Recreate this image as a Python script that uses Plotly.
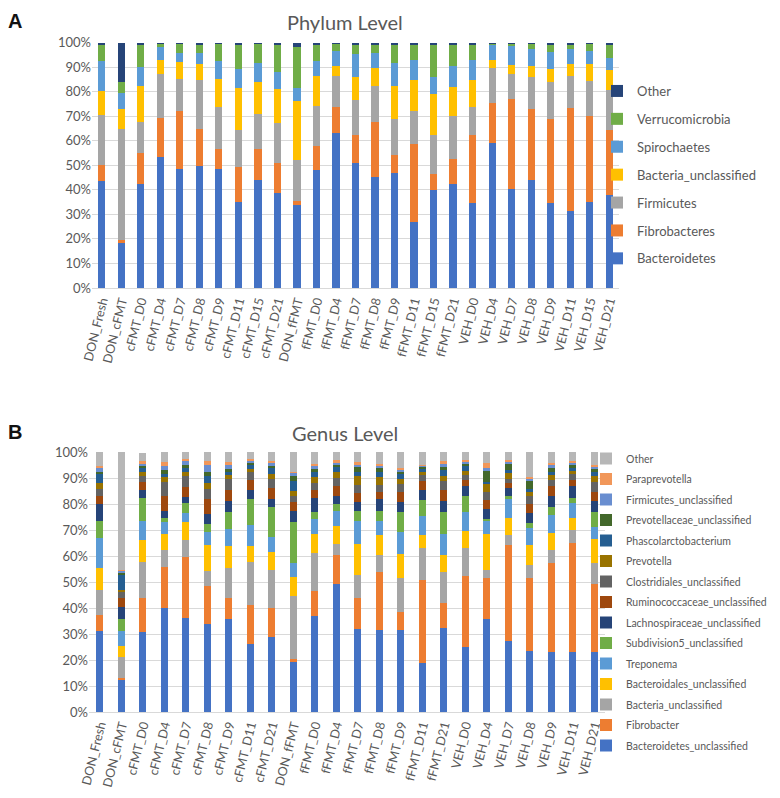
import plotly.graph_objects as go

# ---------------- Phylum level data ----------------
phylum_samples = ["DON_Fresh", "DON_cFMT", "cFMT_D0", "cFMT_D4", "cFMT_D7", "cFMT_D8", "cFMT_D9",
                  "cFMT_D11", "cFMT_D15", "cFMT_D21", "DON_fFMT", "fFMT_D0", "fFMT_D4", "fFMT_D7",
                  "fFMT_D8", "fFMT_D9", "fFMT_D11", "fFMT_D15", "fFMT_D21", "VEH_D0", "VEH_D4",
                  "VEH_D7", "VEH_D8", "VEH_D9", "VEH_D11", "VEH_D15", "VEH_D21"]
bacteroidetes = [43.4, 18.7, 42.2, 53.2, 48.4, 49.8, 48.4, 34.9, 44.1, 38.9, 33.9, 48.2, 63.1, 50.9,
                 45.2, 46.8, 26.9, 39.8, 42.5, 34.6, 59.0, 40.3, 43.8, 34.6, 31.2, 35.0, 37.9]
fibrobacteres = [6.8, 0.8, 12.6, 15.9, 23.5, 15.1, 8.2, 14.5, 12.6, 12.0, 1.4, 9.5, 10.6, 11.5,
                 22.4, 7.5, 31.9, 6.6, 10.0, 27.7, 16.3, 36.8, 29.1, 34.3, 42.1, 34.9, 26.5]
firmicutes = [20.4, 45.2, 12.8, 18.0, 13.3, 19.9, 17.1, 15.1, 14.3, 16.3, 16.9, 16.5, 12.5, 14.0,
              14.8, 14.5, 13.4, 16.0, 17.6, 11.4, 14.5, 10.0, 13.0, 15.2, 13.1, 14.6, 16.3]
bacteria_uncl = [9.7, 8.2, 14.5, 5.6, 6.8, 6.4, 11.5, 16.9, 12.9, 13.8, 23.8, 12.0, 4.4, 9.5,
                 7.2, 13.6, 12.6, 16.6, 11.7, 11.1, 3.1, 3.8, 4.6, 5.2, 4.9, 6.7, 8.1]
spirochaetes = [12.0, 6.5, 7.9, 5.4, 3.9, 4.5, 7.1, 7.7, 7.7, 6.8, 5.4, 6.1, 6.1, 9.4,
                6.1, 9.2, 7.9, 6.9, 8.7, 7.9, 6.3, 7.7, 6.9, 7.0, 6.0, 5.4, 4.9]
verrucomicrobia = [7.0, 4.5, 9.2, 1.6, 3.8, 3.8, 7.4, 10.4, 8.1, 11.7, 16.7, 6.9, 3.0, 4.2,
                   3.8, 7.9, 6.8, 13.2, 9.0, 6.5, 0.5, 1.1, 2.3, 3.2, 2.2, 3.1, 5.3]
phylum_other = [0.7, 16.1, 0.8, 0.3, 0.3, 0.5, 0.3, 0.5, 0.3, 0.5, 1.9, 0.8, 0.3, 0.5,
                0.5, 0.5, 0.5, 0.9, 0.5, 0.8, 0.3, 0.3, 0.3, 0.5, 0.5, 0.3, 1.0]

phylum_names = ["Bacteroidetes", "Fibrobacteres", "Firmicutes", "Bacteria_unclassified",
                "Spirochaetes", "Verrucomicrobia", "Other"]
phylum_series = [bacteroidetes, fibrobacteres, firmicutes, bacteria_uncl,
                 spirochaetes, verrucomicrobia, phylum_other]
phylum_colors = ["#4472C4", "#ED7D31", "#A5A5A5", "#FFC000", "#5B9BD5", "#70AD47", "#264478"]

# ---------------- Genus level data ----------------
genus_samples = ["DON_Fresh", "DON_cFMT", "cFMT_D0", "cFMT_D4", "cFMT_D7", "cFMT_D8", "cFMT_D9",
                 "cFMT_D11", "cFMT_D21", "DON_fFMT", "fFMT_D0", "fFMT_D4", "fFMT_D7", "fFMT_D8",
                 "fFMT_D9", "fFMT_D11", "fFMT_D21", "VEH_D0", "VEH_D4", "VEH_D7", "VEH_D8",
                 "VEH_D9", "VEH_D11", "VEH_D21"]
g_bacteroidetes_uncl = [31.1, 12.2, 30.8, 40.1, 36.2, 33.7, 35.7, 26.3, 28.7, 19.3, 36.9, 49.2, 31.9,
                        31.5, 31.5, 18.9, 32.4, 25.1, 35.7, 27.4, 23.4, 22.9, 22.9, 23.1]
g_fibrobacter = [6.4, 1.0, 12.9, 15.8, 23.6, 14.9, 8.3, 14.8, 11.4, 1.0, 9.6, 11.0, 11.8,
                 22.2, 7.1, 31.9, 9.6, 27.3, 16.0, 36.9, 28.3, 34.3, 42.0, 26.1]
g_bacteria_uncl = [9.4, 8.0, 14.1, 6.4, 6.3, 5.8, 11.3, 16.7, 14.5, 24.3, 14.6, 4.5, 9.0,
                   6.7, 13.1, 12.4, 11.7, 10.8, 2.9, 3.6, 4.9, 5.1, 5.1, 8.0]
g_bacteroidales_uncl = [8.4, 4.1, 8.4, 6.1, 6.9, 9.9, 8.6, 6.2, 6.8, 7.5, 7.4, 7.0, 11.8,
                        7.7, 9.1, 4.7, 6.5, 6.6, 13.7, 6.9, 7.7, 6.7, 4.8, 9.4]
g_treponema = [11.5, 5.8, 7.3, 4.6, 3.6, 5.1, 6.5, 8.0, 6.1, 5.1, 5.8, 5.7, 9.0,
               5.4, 8.4, 7.3, 8.2, 7.1, 5.1, 7.2, 6.4, 6.6, 5.5, 4.7]
g_subdivision5 = [6.7, 4.5, 8.8, 1.8, 3.7, 2.8, 6.7, 10.0, 11.2, 15.8, 2.8, 2.7, 3.9,
                  3.9, 7.7, 6.4, 8.5, 6.3, 0.8, 1.2, 1.9, 3.4, 2.2, 5.6]
g_lachnospiraceae = [6.6, 4.9, 3.2, 2.6, 2.3, 3.9, 4.1, 3.5, 3.3, 4.4, 5.2, 2.8, 3.2,
                     4.6, 3.8, 3.9, 4.1, 3.8, 3.8, 2.9, 4.1, 4.2, 4.3, 4.3]
g_ruminococcaceae = [2.8, 3.2, 2.9, 5.8, 3.8, 5.9, 4.3, 3.8, 4.1, 3.3, 3.2, 3.9, 3.6,
                     2.8, 4.1, 3.2, 4.5, 2.1, 3.6, 1.9, 3.2, 3.6, 2.5, 3.6]
g_clostridiales = [3.0, 2.3, 2.2, 5.1, 4.2, 3.9, 4.2, 3.0, 3.6, 2.2, 2.5, 3.2, 3.2,
                   2.6, 2.9, 2.3, 3.2, 2.2, 3.2, 1.6, 3.0, 2.5, 2.2, 3.5]
g_prevotella = [2.1, 0.9, 1.7, 1.9, 1.9, 2.1, 1.3, 1.1, 1.8, 2.2, 2.2, 2.3, 3.2,
                2.8, 2.0, 1.5, 1.9, 1.5, 3.2, 2.3, 1.9, 1.7, 1.3, 2.3]
g_phascolarctobacterium = [3.4, 6.1, 1.8, 1.3, 1.3, 2.6, 1.5, 1.7, 2.6, 3.8, 2.3, 1.8, 1.9,
                           2.3, 1.8, 1.3, 2.6, 1.7, 0.5, 1.3, 1.1, 1.5, 1.0, 1.7]
g_prevotellaceae_uncl = [0.8, 0.3, 0.6, 1.4, 1.3, 1.9, 1.1, 0.8, 0.6, 1.7, 1.1, 0.8, 1.6,
                         1.3, 1.0, 0.7, 0.9, 0.9, 4.3, 2.2, 2.8, 1.3, 1.3, 1.3]
g_firmicutes_uncl = [1.6, 1.1, 1.0, 1.8, 1.3, 2.4, 1.5, 0.9, 1.1, 1.6, 0.9, 0.9, 1.0,
                     0.9, 0.7, 0.4, 1.3, 1.0, 1.0, 1.0, 1.0, 1.1, 0.9, 0.6]
g_paraprevotella = [0.9, 0.2, 0.7, 1.4, 1.0, 1.8, 0.9, 0.5, 0.9, 0.3, 1.0, 1.3, 0.9,
                    0.7, 0.6, 0.2, 1.0, 0.6, 2.0, 0.6, 0.7, 0.9, 0.7, 0.9]
g_other = [5.3, 45.4, 3.2, 3.9, 2.6, 3.3, 4.0, 2.7, 3.3, 7.5, 4.5, 2.9, 4.0,
           4.6, 6.2, 4.9, 3.6, 3.0, 4.2, 3.0, 9.6, 4.2, 3.3, 4.9]

genus_names = ["Bacteroidetes_unclassified", "Fibrobacter", "Bacteria_unclassified",
               "Bacteroidales_unclassified", "Treponema", "Subdivision5_unclassified",
               "Lachnospiraceae_unclassified", "Ruminococcaceae_unclassified",
               "Clostridiales_unclassified", "Prevotella", "Phascolarctobacterium",
               "Prevotellaceae_unclassified", "Firmicutes_unclassified", "Paraprevotella", "Other"]
genus_series = [g_bacteroidetes_uncl, g_fibrobacter, g_bacteria_uncl, g_bacteroidales_uncl,
                g_treponema, g_subdivision5, g_lachnospiraceae, g_ruminococcaceae,
                g_clostridiales, g_prevotella, g_phascolarctobacterium, g_prevotellaceae_uncl,
                g_firmicutes_uncl, g_paraprevotella, g_other]
genus_colors = ["#4472C4", "#ED7D31", "#A5A5A5", "#FFC000", "#5B9BD5", "#70AD47",
                "#264478", "#9E480E", "#636363", "#997300", "#255E91", "#43682B",
                "#698ED0", "#F1975A", "#B7B7B7"]

y_ticks = [0, 10, 20, 30, 40, 50, 60, 70, 80, 90, 100]
y_tick_labels = ["0%", "10%", "20%", "30%", "40%", "50%", "60%", "70%", "80%", "90%", "100%"]

FONT = "Lato, Liberation Sans, sans-serif"
TXT = "#595959"

# The page body has an 8px default margin: the figure is sized to fit the window
W, H, OFF = 772, 790, 8


def px_x(xp):
    return (xp - OFF) / W


def px_y(yp):
    return 1 - (yp - OFF) / H


fig = go.Figure()

for i, (name, vals, col) in enumerate(zip(phylum_names, phylum_series, phylum_colors)):
    fig.add_trace(go.Bar(x=phylum_samples, y=vals, name=name, marker_color=col,
                         marker_line_width=0, xaxis="x", yaxis="y", legend="legend",
                         legendgroup="p_" + name, legendrank=100 - i))

for i, (name, vals, col) in enumerate(zip(genus_names, genus_series, genus_colors)):
    fig.add_trace(go.Bar(x=genus_samples, y=vals, name=name, marker_color=col,
                         marker_line_width=0, xaxis="x2", yaxis="y2", legend="legend2",
                         legendgroup="g_" + name, legendrank=100 - i, width=0.34))

xtick_font = dict(family=FONT, size=12.5, color=TXT)
ytick_font = dict(family=FONT, size=13, color=TXT)

fig.update_layout(
    width=W, height=H,
    margin=dict(l=0, r=0, t=0, b=0, autoexpand=False),
    paper_bgcolor="white", plot_bgcolor="white",
    barmode="stack", bargap=0.63,
    font=dict(family=FONT, color=TXT),
    xaxis=dict(domain=[px_x(92), px_x(619)], anchor="y", tickangle=-76, showgrid=False,
               showline=True, linecolor="#D9D9D9", ticks="", tickfont=xtick_font,
               automargin=False, fixedrange=True),
    yaxis=dict(domain=[px_y(288), px_y(42.5)], anchor="x", range=[0, 100],
               tickvals=y_ticks, ticktext=y_tick_labels, showgrid=True, gridcolor="#D9D9D9",
               zeroline=False, ticks="", tickfont=ytick_font, automargin=False,
               fixedrange=True),
    xaxis2=dict(domain=[px_x(89), px_x(605)], anchor="y2", tickangle=-76, showgrid=False,
                showline=True, linecolor="#D9D9D9", ticks="", tickfont=xtick_font,
                automargin=False, fixedrange=True),
    yaxis2=dict(domain=[px_y(712), px_y(452)], anchor="x2", range=[0, 100],
                tickvals=y_ticks, ticktext=y_tick_labels, showgrid=True, gridcolor="#D9D9D9",
                zeroline=False, ticks="", tickfont=ytick_font, automargin=False,
                fixedrange=True),
    legend=dict(x=px_x(597), y=px_y(76), xanchor="left", yanchor="top",
                traceorder="grouped", tracegroupgap=8, itemwidth=30,
                font=dict(family=FONT, size=13, color=TXT), bgcolor="rgba(0,0,0,0)"),
    legend2=dict(x=px_x(586), y=px_y(444), xanchor="left", yanchor="top",
                 traceorder="grouped", tracegroupgap=1.5, itemwidth=30,
                 font=dict(family=FONT, size=10.5, color=TXT), bgcolor="rgba(0,0,0,0)"),
    annotations=[
        dict(text="Phylum Level", x=px_x(345), y=px_y(8), xref="paper", yref="paper",
             xanchor="center", yanchor="top", showarrow=False,
             font=dict(family=FONT, size=20, color=TXT)),
        dict(text="Genus Level", x=px_x(345), y=px_y(433), xref="paper", yref="paper",
             xanchor="center", yanchor="middle", showarrow=False,
             font=dict(family=FONT, size=20, color=TXT)),
        dict(text="<b>A</b>", x=px_x(15), y=px_y(8), xref="paper", yref="paper",
             xanchor="center", yanchor="top", showarrow=False,
             font=dict(family="Liberation Sans", size=20, color="#111111")),
        dict(text="<b>B</b>", x=px_x(15), y=px_y(432), xref="paper", yref="paper",
             xanchor="center", yanchor="middle", showarrow=False,
             font=dict(family="Liberation Sans", size=20, color="#111111")),
    ],
)

fig.write_html("out.html")
